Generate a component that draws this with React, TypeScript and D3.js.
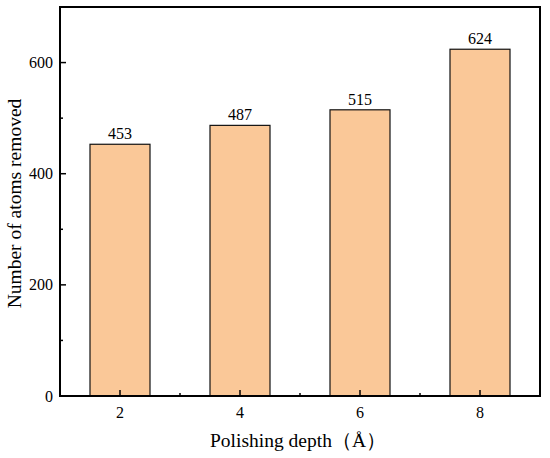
import * as React from 'react';
import * as d3 from 'd3';

const depths = [2, 4, 6, 8];
const atomsRemoved = [453, 487, 515, 624];
const yTicks = [0, 200, 400, 600];
const yMinorTicks = [100, 300, 500];
const xMinorTicks = [3, 5, 7];

const App = () => {
  const ref = React.useRef<SVGSVGElement>(null);

  React.useEffect(() => {
    const width = 550;
    const height = 458;
    const margin = {top: 7, right: 10, bottom: 62, left: 60};
    const w = width - margin.left - margin.right;
    const h = height - margin.top - margin.bottom;
    const font = '"Liberation Serif", "Times New Roman", serif';

    const svg = d3.select(ref.current);
    svg.selectAll('*').remove();
    const g = svg.append('g').attr('transform', `translate(${margin.left},${margin.top})`);

    const x = d3.scaleLinear().domain([1, 9]).range([0, w]);
    const y = d3.scaleLinear().domain([0, 700]).range([h, 0]);
    const barW = x(2) - x(1);

    g.selectAll('rect.bar')
      .data(depths)
      .enter()
      .append('rect')
      .attr('class', 'bar')
      .attr('x', d => x(d) - barW / 2)
      .attr('y', (d, i) => y(atomsRemoved[i]))
      .attr('width', barW)
      .attr('height', (d, i) => h - y(atomsRemoved[i]))
      .attr('fill', '#fac898')
      .attr('stroke', '#111')
      .attr('stroke-width', 1.2);

    g.selectAll('text.val')
      .data(depths)
      .enter()
      .append('text')
      .attr('x', d => x(d))
      .attr('y', (d, i) => y(atomsRemoved[i]) - 5)
      .attr('text-anchor', 'middle')
      .attr('font-family', font)
      .attr('font-size', 16)
      .text((d, i) => atomsRemoved[i]);

    // ticks (inward)
    depths.forEach(d => {
      g.append('line').attr('x1', x(d)).attr('x2', x(d)).attr('y1', h).attr('y2', h - 6)
        .attr('stroke', '#000').attr('stroke-width', 1.5);
      g.append('text').attr('x', x(d)).attr('y', h + 22).attr('text-anchor', 'middle')
        .attr('font-family', font).attr('font-size', 16).text(d);
    });
    xMinorTicks.forEach(d => {
      g.append('line').attr('x1', x(d)).attr('x2', x(d)).attr('y1', h).attr('y2', h - 3)
        .attr('stroke', '#000').attr('stroke-width', 1.5);
    });
    yTicks.forEach(v => {
      g.append('line').attr('x1', 0).attr('x2', 6).attr('y1', y(v)).attr('y2', y(v))
        .attr('stroke', '#000').attr('stroke-width', 1.5);
      g.append('text').attr('x', -7).attr('y', y(v)).attr('dy', '0.35em').attr('text-anchor', 'end')
        .attr('font-family', font).attr('font-size', 16).text(v);
    });
    yMinorTicks.forEach(v => {
      g.append('line').attr('x1', 0).attr('x2', 3).attr('y1', y(v)).attr('y2', y(v))
        .attr('stroke', '#000').attr('stroke-width', 1.5);
    });

    // frame
    g.append('rect').attr('x', 0).attr('y', 0).attr('width', w).attr('height', h)
      .attr('fill', 'none').attr('stroke', '#000').attr('stroke-width', 2);

    svg.append('text')
      .attr('x', margin.left + w / 2 - 2)
      .attr('y', 447)
      .attr('text-anchor', 'middle')
      .attr('font-family', font)
      .attr('font-size', 19.5)
      .text('Polishing depth（Å）');

    svg.append('text')
      .attr('transform', `translate(21,${margin.top + h / 2 + 2}) rotate(-90)`)
      .attr('text-anchor', 'middle')
      .attr('font-family', font)
      .attr('font-size', 19.5)
      .text('Number of atoms removed');
  }, []);

  return (
    <svg ref={ref} width={550} height={458} style={{position: 'absolute', left: 0, top: 0}}></svg>
  );
};

export default App;
